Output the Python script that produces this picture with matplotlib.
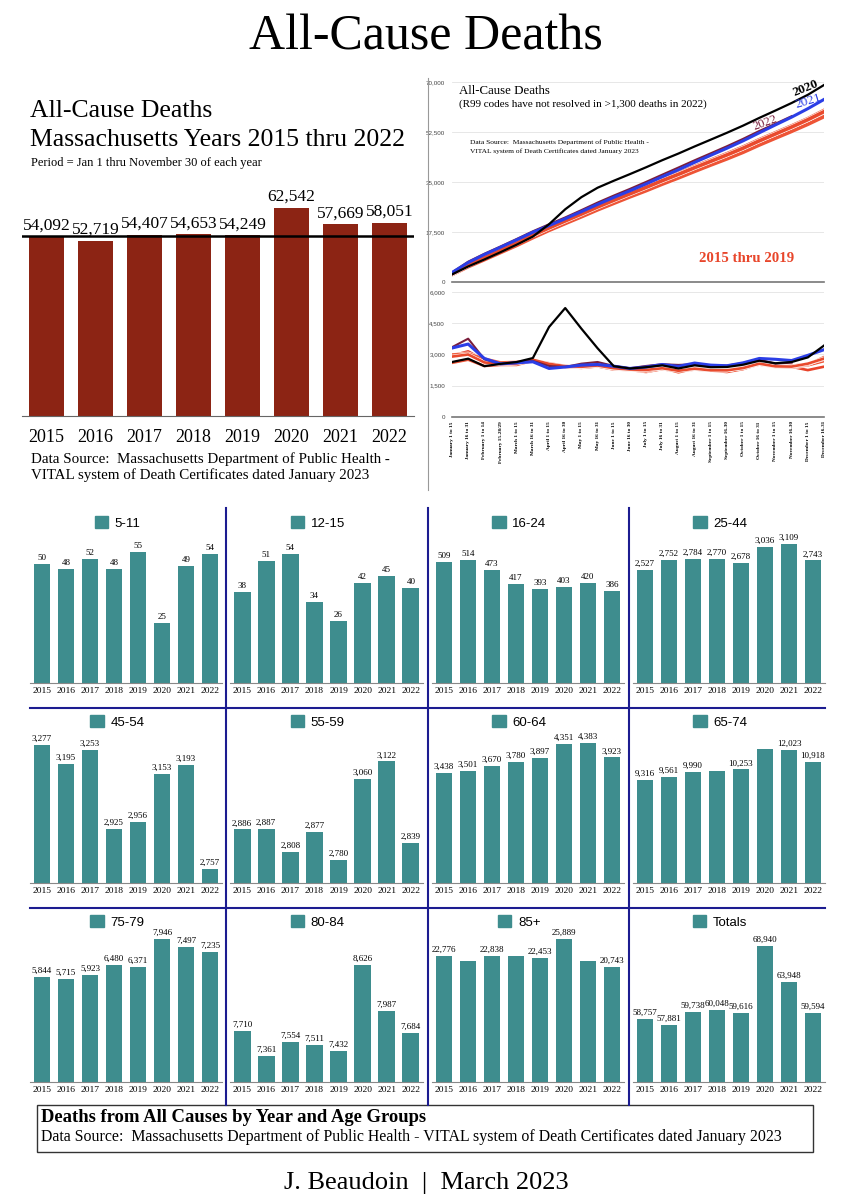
import numpy as np
import matplotlib
matplotlib.use('Agg')
import matplotlib.pyplot as plt
from matplotlib.patches import Patch, Rectangle
from matplotlib.lines import Line2D
import matplotlib.patheffects as pe

SERIF = 'Liberation Serif'
SANS = 'Liberation Sans'

# ---- data ----
years = [2015, 2016, 2017, 2018, 2019, 2020, 2021, 2022]
ytd_deaths = [54092, 52719, 54407, 54653, 54249, 62542, 57669, 58051]   # Jan 1 - Nov 30

periods = ['January 1 to 15', 'January 16 to 31', 'February 1 to 14', 'February 15-28/29',
           'March 1 to 15', 'March 16 to 31', 'April 1 to 15', 'April 16 to 30',
           'May 1 to 15', 'May 16 to 31', 'June 1 to 15', 'June 16 to 30',
           'July 1 to 15', 'July 16 to 31', 'August 1 to 15', 'August 16 to 31',
           'September 1 to 15', 'September 16-30', 'October 1 to 15', 'October 16 to 31',
           'November 1 to 15', 'November 16-30', 'December 1 to 15', 'December 16-31']

# deaths per half-month period
deaths_2015 = [2900, 3000, 2700, 2600, 2620, 2700, 2560, 2430, 2400, 2460, 2320, 2260,
               2230, 2320, 2190, 2290, 2220, 2220, 2320, 2520, 2400, 2410, 2250, 2415]
deaths_2016 = [2600, 2750, 2450, 2500, 2500, 2700, 2560, 2400, 2360, 2430, 2280, 2260,
               2160, 2300, 2180, 2280, 2230, 2160, 2300, 2550, 2400, 2370, 2480, 2682]
deaths_2017 = [2950, 3150, 2720, 2560, 2580, 2680, 2540, 2430, 2400, 2470, 2320, 2270,
               2250, 2330, 2200, 2300, 2230, 2230, 2380, 2550, 2410, 2457, 2550, 2781]
deaths_2018 = [3000, 3050, 2800, 2620, 2640, 2720, 2580, 2450, 2420, 2490, 2340, 2280,
               2190, 2360, 2143, 2330, 2250, 2250, 2350, 2560, 2420, 2410, 2520, 2875]
deaths_2019 = [2900, 3000, 2620, 2540, 2570, 2749, 2550, 2440, 2410, 2470, 2340, 2280,
               2260, 2340, 2220, 2320, 2240, 2240, 2350, 2560, 2430, 2420, 2560, 2807]
deaths_2020 = [2640, 2800, 2440, 2550, 2640, 2830, 4320, 5230, 4240, 3300, 2440, 2330,
               2390, 2480, 2330, 2480, 2390, 2400, 2510, 2700, 2580, 2640, 2860, 3430]
deaths_2021 = [3310, 3500, 2810, 2550, 2600, 2650, 2330, 2400, 2490, 2520, 2440, 2330,
               2400, 2520, 2430, 2590, 2490, 2460, 2600, 2810, 2770, 2710, 2960, 3230]
deaths_2022 = [3350, 3760, 2770, 2560, 2620, 2690, 2450, 2400, 2560, 2640, 2450, 2340,
               2450, 2530, 2500, 2530, 2450, 2470, 2590, 2750, 2560, 2610]

age_groups = ['5-11', '12-15', '16-24', '25-44',
              '45-54', '55-59', '60-64', '65-74',
              '75-79', '80-84', '85+', 'Totals']
age_5_11 = [50, 48, 52, 48, 55, 25, 49, 54]
age_12_15 = [38, 51, 54, 34, 26, 42, 45, 40]
age_16_24 = [509, 514, 473, 417, 393, 403, 420, 386]
age_25_44 = [2527, 2752, 2784, 2770, 2678, 3036, 3109, 2743]
age_45_54 = [3277, 3195, 3253, 2925, 2956, 3153, 3193, 2757]
age_55_59 = [2886, 2887, 2808, 2877, 2780, 3060, 3122, 2839]
age_60_64 = [3438, 3501, 3670, 3780, 3897, 4351, 4383, 3923]
age_65_74 = [9316, 9561, 9990, 10110, 10253, 12100, 12023, 10918]
age_75_79 = [5844, 5715, 5923, 6480, 6371, 7946, 7497, 7235]
age_80_84 = [7710, 7361, 7554, 7511, 7432, 8626, 7987, 7684]
age_85_up = [22776, 21910, 22838, 22700, 22453, 25889, 21770, 20743]
age_totals = [58757, 57881, 59738, 60048, 59616, 68940, 63948, 59594]
# value labels that the original chart leaves out (index into years)
hidden_labels = {'65-74': [3, 5], '85+': [1, 3, 6]}
panel_ylims = [(0, 60), (0, 60), (0, 600), (0, 3200),
               (2700, 3300), (2700, 3200), (0, 4500), (0, 13000),
               (0, 8000), (7000, 9000), (0, 26000), (50000, 70000)]

# ---- layout helpers (pixel positions on an 852x1200 canvas) ----
W, H = 852, 1200
fig = plt.figure(figsize=(8.52, 12), dpi=100)


def px_ax(x0, y0, x1, y1):
    return fig.add_axes([x0 / W, 1 - y1 / H, (x1 - x0) / W, (y1 - y0) / H])


def ftxt(x, y, s, **kw):
    kw.setdefault('family', SERIF)
    kw.setdefault('va', 'center')
    fig.text(x / W, 1 - y / H, s, **kw)


def fline(x0, y0, x1, y1, **kw):
    fig.add_artist(Line2D([x0 / W, x1 / W], [1 - y0 / H, 1 - y1 / H],
                          transform=fig.transFigure, **kw))


ftxt(426, 37, 'All-Cause Deaths', fontsize=36, ha='center')

# ---- top left: Jan-Nov totals ----
ax = px_ax(22, 183, 414, 416)
x = np.arange(len(years))
ax.bar(x, ytd_deaths, width=0.72, color='#8c2414')
ax.axhline(np.mean(ytd_deaths[:5]), color='black', lw=1.8)
for i, v in enumerate(ytd_deaths):
    ax.annotate(f'{v:,}', (i, v), xytext=(0, 2), textcoords='offset points',
                ha='center', va='bottom', fontsize=12.5, family=SERIF)
ax.set_xlim(-0.5, 7.5)
ax.set_ylim(0, 70000)
ax.set_xticks(x)
ax.set_xticklabels([str(y) for y in years], fontsize=13, family=SERIF)
ax.tick_params(axis='x', length=0, pad=9)
ax.set_yticks([])
for s in ['left', 'right', 'top']:
    ax.spines[s].set_visible(False)
ax.spines['bottom'].set_color('#666')

ftxt(30, 111, 'All-Cause Deaths', fontsize=18.5)
ftxt(30, 140, 'Massachusetts Years 2015 thru 2022', fontsize=18.5)
ftxt(31, 163, 'Period = Jan 1 thru November 30 of each year', fontsize=9)
ftxt(31, 459, 'Data Source:  Massachusetts Department of Public Health -', fontsize=10.8)
ftxt(31, 475, 'VITAL system of Death Certificates dated January 2023', fontsize=10.8)

# ---- top right: cumulative and half-month deaths ----
fline(428, 78, 428, 490, color='#999', lw=0.8)
reds = ['#e8432a', '#ee5436', '#e33b25', '#f0603f', '#e94a2d']
red_series = [deaths_2015, deaths_2016, deaths_2017, deaths_2018, deaths_2019]
others = [(deaths_2022, '#7a1e3c', 1.5), (deaths_2021, '#2b3ee6', 2.2),
          (deaths_2020, 'black', 1.6)]

axu = px_ax(452, 82, 824, 282)
axl = px_ax(452, 292, 824, 417)
for a, cum, lw in [(axu, True, 2.6), (axl, False, 1.9)]:
    for d, c in zip(red_series, reds):
        yv = np.cumsum(d) if cum else d
        a.plot(np.arange(len(d)), yv, color=c, lw=lw,
               path_effects=[pe.Stroke(linewidth=lw + 0.8, foreground='white'), pe.Normal()])
    for d, c, w in others:
        yv = np.cumsum(d) if cum else d
        a.plot(np.arange(len(d)), yv, color=c, lw=w)
    a.set_xlim(0, 23)
    for s in ['left', 'right', 'top']:
        a.spines[s].set_visible(False)
    a.spines['bottom'].set_color('#777')
    a.spines['bottom'].set_linewidth(1.2)
    a.tick_params(axis='y', length=0, labelsize=4.5, labelcolor='#444', pad=5)
    a.grid(axis='y', color='#e3e3e3', lw=0.6)
    a.set_axisbelow(True)

axu.set_ylim(0, 70000)
axu.set_yticks([0, 17500, 35000, 52500, 70000])
axu.set_yticklabels(['0', '17,500', '35,000', '52,500', '70,000'], family=SANS)
axu.set_xticks([])
axl.set_ylim(0, 6000)
axl.set_yticks([0, 1500, 3000, 4500, 6000])
axl.set_yticklabels(['0', '1,500', '3,000', '4,500', '6,000'], family=SANS)
axl.set_xticks(range(len(periods)))
axl.set_xticklabels(periods, rotation=90, fontsize=3.8, family=SERIF,
                    fontweight='bold', va='top')
axl.tick_params(axis='x', length=0, pad=3)

ftxt(459, 91, 'All-Cause Deaths', fontsize=9.3)
ftxt(459, 104, '(R99 codes have not resolved in >1,300 deaths in 2022)', fontsize=8)
ftxt(470, 142, 'Data Source:  Massachusetts Department of Public Health -', fontsize=5.4)
ftxt(470, 151, 'VITAL system of Death Certificates dated January 2023', fontsize=5.4)
ftxt(747, 258, '2015 thru 2019', fontsize=10.7, fontweight='bold', color='#e8462b', ha='center')
ftxt(806, 88, '2020', fontsize=9.5, fontweight='bold', rotation=22, ha='center')
ftxt(808, 101, '2021', fontsize=9.5, color='#2b3ee6', rotation=17, ha='center')
ftxt(765, 123, '2022', fontsize=9, color='#7a1e3c', rotation=20, ha='center')

# ---- bottom: age group panels ----
teal = '#3e8d8e'
panel_values = [age_5_11, age_12_15, age_16_24, age_25_44, age_45_54, age_55_59,
                age_60_64, age_65_74, age_75_79, age_80_84, age_85_up, age_totals]
col_x = [(30, 222), (230, 423), (432, 624), (633, 825)]
row_y = [(540, 683), (739, 883), (938, 1082)]
legend_y = [523, 722, 922]

for k, (name, vals) in enumerate(zip(age_groups, panel_values)):
    r, c = divmod(k, 4)
    x0, x1 = col_x[c]
    y0, y1 = row_y[r]
    a = px_ax(x0, y0, x1, y1)
    a.bar(x, vals, width=0.7, color=teal)
    hide = hidden_labels.get(name, [])
    for i, v in enumerate(vals):
        if i in hide:
            continue
        a.annotate(f'{v:,}', (i, v), xytext=(0, 1.5), textcoords='offset points',
                   ha='center', va='bottom', fontsize=6.5, family=SERIF)
    a.set_xlim(-0.5, 7.5)
    a.set_ylim(*panel_ylims[k])
    a.set_xticks(x)
    a.set_xticklabels([str(y) for y in years], fontsize=6.8, family=SERIF)
    a.tick_params(axis='x', length=0, pad=3)
    a.set_yticks([])
    for s in ['left', 'right', 'top']:
        a.spines[s].set_visible(False)
    a.spines['bottom'].set_color('#888')
    ly = 1 + (y0 - legend_y[r]) / (y1 - y0)
    a.legend(handles=[Patch(color=teal)], labels=[name], loc='center',
             bbox_to_anchor=(0.455, ly), frameon=False, handlelength=1.0,
             handleheight=1.0, handletextpad=0.5, borderpad=0,
             prop={'family': SANS, 'size': 9.5})

navy = '#1c1c90'
for vx in [226, 428, 629]:
    fline(vx, 508, vx, 1105, color=navy, lw=1.5)
for hy in [708, 908]:
    fline(30, hy, 825, hy, color=navy, lw=1.5)

fig.add_artist(Rectangle((37 / W, 1 - 1152 / H), (813 - 37) / W, (1152 - 1105) / H,
                         transform=fig.transFigure, fill=False, ec='#333', lw=1))
ftxt(41, 1117, 'Deaths from All Causes by Year and Age Groups', fontsize=13.4, fontweight='bold')
ftxt(41, 1137, 'Data Source:  Massachusetts Department of Public Health - VITAL system of '
     'Death Certificates dated January 2023', fontsize=11.4)
ftxt(426, 1183, 'J. Beaudoin  |  March 2023', fontsize=19, ha='center')

fig.savefig('out.png', dpi=100, facecolor='white')
